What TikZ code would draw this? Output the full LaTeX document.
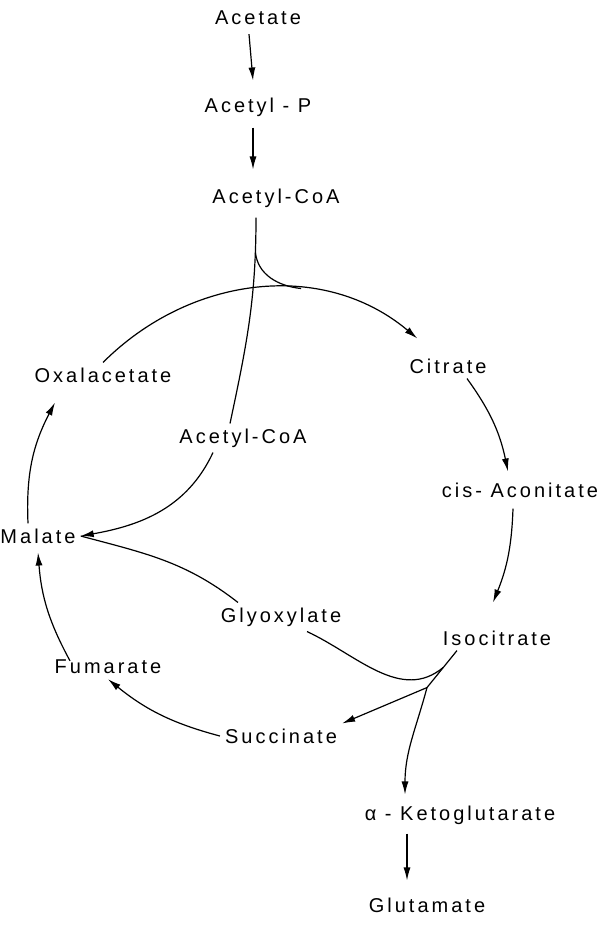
\documentclass[tikz,border=0pt]{standalone}
\usepackage{fontspec}
\setmainfont{Liberation Sans}[LetterSpace=15]
\usetikzlibrary{arrows.meta,positioning,calc}
\tikzset{
  flowarrow/.style={-{Latex[length=13pt,width=7pt]}, line width=1.2pt, draw=black},
  plainline/.style={line width=1.2pt, draw=black},
  metab/.style={font=\fontsize{20}{22}\selectfont, inner sep=5pt, text=black}
}

\begin{document}
\begin{tikzpicture}[x=1pt,y=-1pt]
        \useasboundingbox[fill=white] (0,0) rectangle (614,937);

        \node[metab] (ac) at (258,18) {Acetate};
        \node[metab] (acp) at (258,107) {Acetyl - P};
        \node[metab] (acoa) at (276,198) {Acetyl-CoA};
        \node[metab] (oaa) at (103,375) {Oxalacetate};
        \node[metab] (cit) at (448,366) {Citrate};
        \node[metab] (acoa2) at (243,438) {Acetyl-CoA};
        \node[metab] (acon) at (520,490) {cis- Aconitate};
        \node[metab] (mal) at (38,536) {Malate};
        \node[metab] (glx) at (281,617) {Glyoxylate};
        \node[metab] (icit) at (497,638) {Isocitrate};
        \node[metab] (fum) at (108,667) {Fumarate};
        \node[metab] (succ) at (281,736) {Succinate};
        \node[metab] (akg) at (460,815) {α - Ketoglutarate};
        \node[metab] (glu) at (427,905) {Glutamate};

        \draw[flowarrow] ([xshift=-9pt,yshift=-4pt]ac.south) -- ([xshift=-5pt,yshift=12pt]acp.north);
        \draw[flowarrow] ([xshift=-5pt,yshift=-6pt]acp.south) -- ([xshift=-23pt,yshift=14pt]acoa.north);

        \draw[flowarrow] (oaa.north) to[out=45,in=140] coordinate[pos=0.63] (merge)
            ([xshift=13pt,yshift=15pt]cit.north west);
        \draw[plainline] ([xshift=-20pt,yshift=-5pt]acoa.south) to[out=-90,in=78] coordinate[pos=0.15] (split)
            ([xshift=-13pt]acoa2.north);
        \draw[plainline] (split) to[out=-85,in=174] (merge);

        \draw[flowarrow] ([xshift=19pt]cit.south) to[bend left=12] ([xshift=-12pt,yshift=6pt]acon.north);
        \draw[flowarrow] ([xshift=-7pt,yshift=-6pt]acon.south) to[bend left=10] ([xshift=-4pt,yshift=23pt]icit.north);

        \draw[plainline] ([xshift=-40pt]icit.south) -- coordinate[pos=0.45] (gsplit) ++(-30,37) coordinate (ksplit);
        \draw[plainline] (gsplit) to[out=-140,in=-25] ([xshift=26pt]glx.south);
        \draw[flowarrow] (ksplit) -- (succ.north east);
        \draw[flowarrow] (ksplit) to[out=-105,in=90] ([xshift=-55pt,yshift=6pt]akg.north);
        \draw[flowarrow] ([xshift=-53pt,yshift=-4pt]akg.south) -- ([xshift=-20pt,yshift=12pt]glu.north);

        \draw[flowarrow] (succ.west) to[bend left=12] (fum.south);
        \draw[flowarrow] ([xshift=-38pt,yshift=-6pt]fum.north) to[bend left=12] ([xshift=0pt,yshift=-4pt]mal.south);
        \draw[flowarrow] ([xshift=-10pt]mal.north) to[bend left=15] ([xshift=-48pt,yshift=-15pt]oaa.south);

        \draw[flowarrow] ([xshift=-30pt]acoa2.south) to[out=-115,in=10] (mal.east);
        \draw[plainline] ([xshift=-43pt]glx.north) to[out=142,in=-15] (mal.east);
\end{tikzpicture}
\end{document}
